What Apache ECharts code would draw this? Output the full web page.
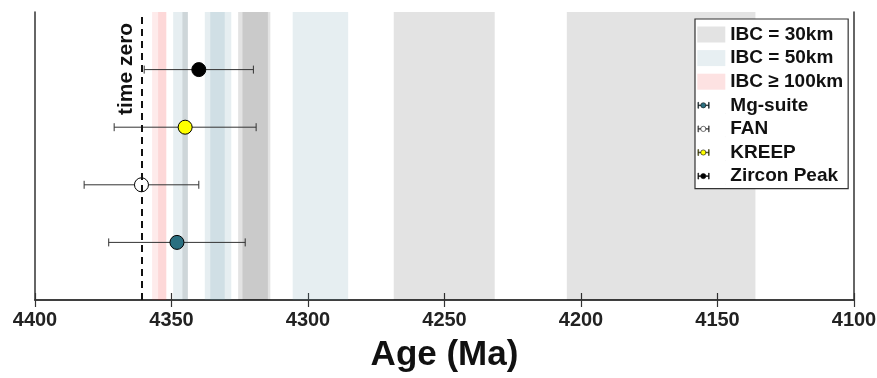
<!DOCTYPE html>
<html>
<head>
<meta charset="utf-8">
<script src="https://cdn.jsdelivr.net/npm/echarts@6/dist/echarts.min.js"></script>
<style>
  html, body { margin: 0; padding: 0; background: #fff; }
  #chart { width: 877px; height: 378px; }
</style>
</head>
<body>
<div id="chart"></div>
<script>
// IBC bands, age ranges in Ma [older, younger]
var ibc30 = [[4346, 4344], [4325.6, 4313.8], [4324, 4314.7], [4268.6, 4231.6], [4205.2, 4136.1]];
var ibc50 = [[4349.4, 4344], [4337.8, 4328.1], [4335.8, 4330.5], [4305.6, 4285.3]];
var ibc100 = [[4357.1, 4351.9], [4354.9, 4351.9]];

// sample groups
var groupNames = ["Mg-suite", "FAN", "KREEP", "Zircon Peak"];
var groupAges = [4348, 4361, 4345, 4340];
var groupErrs = [25, 21, 26, 20];
var groupRows = [1, 2, 3, 4];
var groupColors = ["#2a6f80", "#ffffff", "#ffff00", "#000000"];

var timeZero = 4361;

var FONT = "Liberation Sans, Arial, Helvetica, sans-serif";
var INK = "#222";

// small |-o-| glyph for legend, padded to a 28x16 box
var errIcon = "path://M0,0 L0.01,0 L0.01,0.01 Z M28,16 L27.99,16 L27.99,15.99 Z" +
  " M0.6,5 L1.3,5 L1.3,11 L0.6,11 Z M11.2,5 L11.9,5 L11.9,11 L11.2,11 Z" +
  " M1.3,7.7 L3.4,7.7 L3.4,8.3 L1.3,8.3 Z M8.6,7.7 L11.2,7.7 L11.2,8.3 L8.6,8.3 Z" +
  " M8.6,8 A2.6,2.6 0 1,1 3.4,8 A2.6,2.6 0 1,1 8.6,8 Z";

function bandSeries(name, bands, color) {
  return {
    name: name,
    type: "custom",
    z: 1,
    silent: true,
    itemStyle: { color: color },
    data: bands,
    renderItem: function (params, api) {
      var a = api.coord([api.value(0), 5]);
      var b = api.coord([api.value(1), 0]);
      return {
        type: "rect",
        shape: { x: Math.min(a[0], b[0]), y: a[1], width: Math.abs(b[0] - a[0]), height: b[1] - a[1] },
        style: { fill: color }
      };
    }
  };
}

var series = [
  bandSeries("IBC = 30km", ibc30, "rgba(0,0,0,0.11)"),
  bandSeries("IBC = 50km", ibc50, "rgba(88,142,162,0.15)"),
  bandSeries("IBC ≥ 100km", ibc100, "rgba(238,22,22,0.085)"),
  // error bars
  {
    type: "custom",
    z: 3,
    silent: true,
    data: groupAges.map(function (a, i) { return [a + groupErrs[i], a - groupErrs[i], groupRows[i]]; }),
    renderItem: function (params, api) {
      var lo = api.coord([api.value(0), api.value(2)]);
      var hi = api.coord([api.value(1), api.value(2)]);
      var s = { stroke: "#333", lineWidth: 1 };
      return {
        type: "group",
        children: [
          { type: "line", shape: { x1: lo[0], y1: lo[1], x2: hi[0], y2: hi[1] }, style: s },
          { type: "line", shape: { x1: lo[0], y1: lo[1] - 4, x2: lo[0], y2: lo[1] + 4 }, style: s },
          { type: "line", shape: { x1: hi[0], y1: hi[1] - 4, x2: hi[0], y2: hi[1] + 4 }, style: s }
        ]
      };
    }
  }
];

for (var i = 0; i < groupNames.length; i++) {
  series.push({
    name: groupNames[i],
    type: "scatter",
    z: 4,
    silent: true,
    symbolSize: 14,
    itemStyle: { color: groupColors[i], borderColor: "#000", borderWidth: 1, opacity: 1 },
    data: [[groupAges[i], groupRows[i]]]
  });
}

// time zero dashed line
series.push({
  type: "scatter",
  z: 5,
  data: [],
  markLine: {
    silent: true,
    symbol: "none",
    lineStyle: { type: [7, 5], color: "#111", width: 2 },
    label: {
      show: true,
      position: "insideEndTop",
      formatter: "time zero ",
      fontFamily: FONT,
      fontSize: 21,
      fontWeight: "bold",
      color: "#111",
      distance: 5
    },
    data: [{ xAxis: timeZero }]
  }
});

var legendData = [
  { name: "IBC = 30km", icon: "rect", itemStyle: { color: "#e3e3e3" } },
  { name: "IBC = 50km", icon: "rect", itemStyle: { color: "#e7eff2" } },
  { name: "IBC ≥ 100km", icon: "rect", itemStyle: { color: "#fde2e2" } }
];
for (var j = 0; j < groupNames.length; j++) {
  legendData.push({
    name: groupNames[j],
    icon: errIcon,
    itemStyle: { color: groupColors[j], borderColor: "#111", borderWidth: 0.6 }
  });
}

var xAxisBase = {
  type: "value",
  min: 4100,
  max: 4400,
  interval: 50,
  inverse: true,
  axisLine: { show: true, lineStyle: { color: "#333", width: 1.5 } },
  axisTick: { show: true, inside: true, length: 7, lineStyle: { color: "#333", width: 1.2 } },
  splitLine: { show: false }
};

var chart = echarts.init(document.getElementById("chart"));
chart.setOption({
  animation: false,
  backgroundColor: "#fff",
  grid: { left: 35, right: 23, top: 12, bottom: 78, outerBoundsMode: "none" },
  legend: {
    orient: "vertical",
    left: 695,
    top: 19,
    selectedMode: false,
    itemWidth: 28,
    itemHeight: 16,
    itemGap: 4.6,
    padding: [6, 5, 3, 2],
    borderColor: "#333",
    borderWidth: 1.2,
    backgroundColor: "#fff",
    textStyle: { fontFamily: FONT, fontSize: 19, fontWeight: "bold", color: "#111" },
    data: legendData
  },
  xAxis: [
    Object.assign({}, xAxisBase, {
      position: "bottom",
      name: "Age (Ma)",
      nameLocation: "middle",
      nameGap: 38,
      nameTextStyle: { fontFamily: FONT, fontSize: 35, fontWeight: "bold", color: "#111" },
      axisLabel: {
        fontFamily: FONT, fontSize: 20, fontWeight: "bold", color: INK, margin: 10,
        formatter: function (v) { return String(v); }
      }
    }),
    Object.assign({}, xAxisBase, { position: "top", axisLabel: { show: false } })
  ],
  yAxis: [
    { type: "value", min: 0, max: 5, position: "left",
      axisLine: { show: true, lineStyle: { color: "#333", width: 1.5 } },
      axisTick: { show: false }, axisLabel: { show: false }, splitLine: { show: false } },
    { type: "value", min: 0, max: 5, position: "right",
      axisLine: { show: true, lineStyle: { color: "#333", width: 1.5 } },
      axisTick: { show: false }, axisLabel: { show: false }, splitLine: { show: false } }
  ],
  series: series
});
</script>
</body>
</html>
